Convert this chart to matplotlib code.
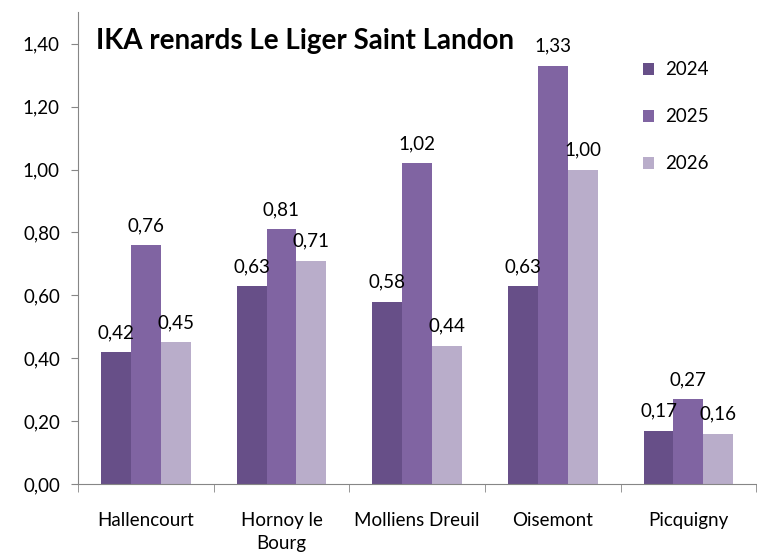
from matplotlib import pyplot as plt
import matplotlib as mpl
import numpy as np

# Data
communes = ['Hallencourt', 'Hornoy le\nBourg', 'Molliens Dreuil', 'Oisemont', 'Picquigny']
years = ['2024', '2025', '2026']
v2024 = [0.42, 0.63, 0.58, 0.63, 0.17]
v2025 = [0.76, 0.81, 1.02, 1.33, 0.27]
v2026 = [0.45, 0.71, 0.44, 1.00, 0.16]
y_ticks = [0.0, 0.2, 0.4, 0.6, 0.8, 1.0, 1.2, 1.4]

colors = ['#674f88', '#8064a2', '#b9adca']

mpl.rcParams.update({
    'font.family': ['Lato', 'DejaVu Sans'],
    'font.size': 13,
})

fig = plt.figure(figsize=(7.57, 5.57), dpi=100)
ax = fig.add_axes([0.103, 0.131, 0.896, 0.847])

x = np.arange(len(communes))
w = 0.22
for i, (vals, year) in enumerate(zip([v2024, v2025, v2026], years)):
    bars = ax.bar(x + (i - 1) * w, vals, width=w, color=colors[i], label=year)
    for b, v in zip(bars, vals):
        ax.text(b.get_x() + b.get_width() / 2, v + 0.035, f'{v:.2f}'.replace('.', ','),
                ha='center', va='bottom', fontsize=13.5)

ax.set_xlim(-0.5, len(communes) - 0.5)
ax.set_ylim(0, 1.5)
ax.set_yticks(y_ticks)
ax.set_yticklabels([f'{t:.2f}'.replace('.', ',') for t in y_ticks], fontsize=13.5)
ax.set_xticks(x)
ax.set_xticklabels(communes, fontsize=13.5, linespacing=1.45)
ax.set_xticks(np.arange(-0.5, len(communes)), minor=True)
ax.tick_params(axis='x', which='major', length=0, pad=20)
ax.tick_params(axis='x', which='minor', length=6, color='#868686')
ax.tick_params(axis='y', length=5, color='#868686', pad=8)

ax.spines['top'].set_visible(False)
ax.spines['right'].set_visible(False)
ax.spines['left'].set_color('#868686')
ax.spines['bottom'].set_color('#868686')

ax.text(0.027, 1.41, 'IKA renards Le Liger Saint Landon', fontsize=20,
        fontweight='bold', va='center', ha='left',
        transform=mpl.transforms.blended_transform_factory(ax.transAxes, ax.transData))

legend = ax.legend(loc='upper right', bbox_to_anchor=(0.955, 0.932), frameon=False,
                   fontsize=13.5, labelspacing=1.6, handlelength=0.6, handleheight=0.6,
                   handletextpad=0.6)

fig.savefig('out.png', dpi=100)
